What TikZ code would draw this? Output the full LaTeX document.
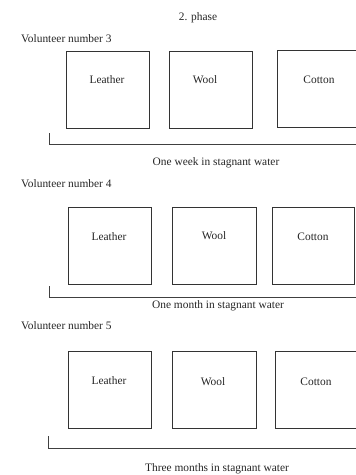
\documentclass[tikz,border=0pt]{standalone}
\usepackage{fontspec}
\setmainfont{Liberation Serif}
\begin{document}
\begin{tikzpicture}[x=1pt,y=-1pt,
  box/.style={draw=black!80,line width=1pt},
  brk/.style={draw=black!75,line width=1pt},
  txt/.style={inner sep=0pt,font=\fontsize{11.4}{13}\selectfont,text=black!85},
  lbl/.style={txt,anchor=west}]
\clip (0,0) rectangle (356,475);
\fill[white] (0,0) rectangle (356,475);
\node[txt] (phase) at (198,18) {2. phase};
% row 1
\node[lbl] (v3) at (21,39) {Volunteer number 3};
\draw[box] (66,51) rectangle (149,128);
\draw[box] (169,51) rectangle (252,128);
\draw[box] (277,50) rectangle (370,127);
\node[txt] (l1) at (107,80) {Leather};
\node[txt] (w1) at (205,80) {Wool};
\node[txt] (c1) at (319,80) {Cotton};
\coordinate (b1a) at (49,133);
\coordinate (b1b) at (49,144);
\coordinate (b1c) at (370,144);
\draw[brk] (b1a) -- (b1b) -- (b1c);
\node[txt] (t1) at (216,163) {One week in stagnant water};
% row 2
\node[lbl] (v4) at (21,184) {Volunteer number 4};
\draw[box] (68,207) rectangle (151,284);
\draw[box] (172,207) rectangle (256,284);
\draw[box] (272,207) rectangle (354,284);
\node[txt] (l2) at (109,237) {Leather};
\node[txt] (w2) at (214,236) {Wool};
\node[txt] (c2) at (313,237) {Cotton};
\coordinate (b2a) at (49,286);
\coordinate (b2b) at (49,297);
\coordinate (b2c) at (370,297);
\draw[brk] (b2a) -- (b2b) -- (b2c);
\node[txt] (t2) at (218,306) {One month in stagnant water};
% row 3
\node[lbl] (v5) at (21,326) {Volunteer number 5};
\draw[box] (68,351) rectangle (151,428);
\draw[box] (172,351) rectangle (256,428);
\draw[box] (275,351) rectangle (370,428);
\node[txt] (l3) at (109,381) {Leather};
\node[txt] (w3) at (213,382) {Wool};
\node[txt] (c3) at (316,382) {Cotton};
\coordinate (b3a) at (48,436);
\coordinate (b3b) at (48,448);
\coordinate (b3c) at (370,448);
\draw[brk] (b3a) -- (b3b) -- (b3c);
\node[txt] (t3) at (217,469) {Three months in stagnant water};
\end{tikzpicture}
\end{document}
